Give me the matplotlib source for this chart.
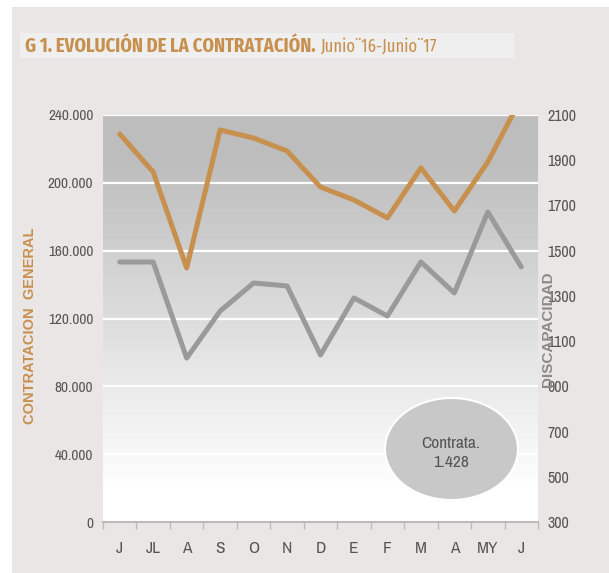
#!/usr/bin/env python3

import matplotlib
matplotlib.use('Agg')
import matplotlib.pyplot as plt
from matplotlib import font_manager
from matplotlib.font_manager import FontProperties
from matplotlib.patches import Ellipse, Rectangle
import numpy as np

months = ['J', 'JL', 'A', 'S', 'O', 'N', 'D', 'E', 'F', 'M', 'A', 'MY', 'J']
contratacion = [228800, 206400, 149800, 231200, 226400, 218800, 197500,
                189900, 179300, 208800, 183400, 212300, 250000]
discapacidad = [1450, 1450, 1025, 1233, 1357, 1344, 1039,
                1291, 1211, 1450, 1313, 1671, 1428]
left_ticks = [0, 40000, 80000, 120000, 160000, 200000, 240000]
left_labels = ['0', '40.000', '80.000', '120.000', '160.000', '200.000', '240.000']
right_ticks = [300, 500, 700, 900, 1100, 1300, 1500, 1700, 1900, 2100]

ORANGE = '#C8904E'
GREY = '#9A9A9A'
TXT = '#555555'
NARROW = ['Archivo Narrow', 'Roboto Condensed', 'DejaVu Sans']

W, H = 609, 573


def fx(px):
    return px / W


def fy(py):
    return 1 - py / H


def pick(cands, bold=False):
    # first installed family from cands (with a bold face if asked)
    for name in cands:
        for f in font_manager.fontManager.ttflist:
            if f.name != name:
                continue
            if not bold or f.weight in (700, 'bold'):
                return [name, 'DejaVu Sans']
    return NARROW


def bold_props(cands, size):
    # upright, normal width bold face, taken straight from its file
    for name in cands:
        for f in font_manager.fontManager.ttflist:
            if (f.name == name and f.style == 'normal'
                    and f.weight in (700, 'bold')
                    and f.stretch in ('normal', 400, 500)):
                return FontProperties(fname=f.fname, size=size)
    return FontProperties(family='DejaVu Sans', weight='bold', size=size)


fig = plt.figure(figsize=(6.09, 5.73), dpi=100)
fig.patch.set_facecolor('white')

# panel background and title bar
fig.add_artist(Rectangle((fx(12), 0), 1, fy(7), transform=fig.transFigure,
                         facecolor='#EAE6E6', edgecolor='none', zorder=-10))
fig.add_artist(Rectangle((fx(20), fy(58)), 494 / W, 25 / H,
                         transform=fig.transFigure, facecolor='#F0EFEF',
                         edgecolor='none', zorder=-9))

title_font = pick(['Fira Sans Extra Condensed', 'Sofia Sans Extra Condensed',
                   'Barlow Condensed', 'Roboto Condensed'], bold=True)
sub_font = pick(['Fira Sans Extra Condensed', 'Roboto Condensed',
                 'Archivo Narrow'])

t1 = fig.text(fx(25), fy(46), 'G 1. EVOLUCIÓN DE LA CONTRATACIÓN.',
              family=title_font, fontweight='bold', fontsize=14.5,
              color=ORANGE, va='center', ha='left')
fig.canvas.draw()
bb = t1.get_window_extent()
fig.text(bb.x1 / W + fx(5), fy(46.5), 'Junio¨16-Junio¨17',
         family=sub_font, fontsize=13, color=ORANGE, va='center', ha='left')

ax = fig.add_axes([fx(103), fy(522), 435 / W, 407 / H])
ax.set_facecolor('none')
x = np.arange(len(months))

# gradient background, white at the bottom, grey at the top
grad = np.linspace(0, 1, 256)
vals = np.clip((grad - 0.08) / 0.8, 0, 1)
top = 0.745
img = 1 - (1 - top) * vals
img = np.repeat(img[:, None, None], 3, axis=2)
ax.imshow(img, extent=[-0.5, len(months) - 0.5, 0, 240000], aspect='auto',
          origin='lower', zorder=0)

for t in left_ticks[1:]:
    ax.axhline(t, color='white', lw=1.6, zorder=1)

ax.plot(x, contratacion, color=ORANGE, lw=3.6, solid_capstyle='round', zorder=3)
ax.set_xlim(-0.5, len(months) - 0.5)
ax.set_ylim(0, 240000)
ax.set_yticks(left_ticks)
ax.set_yticklabels(left_labels)
ax.set_xticks(x)
ax.set_xticklabels(months)
ax.set_xticks(np.arange(-0.5, len(months)), minor=True)
ax.tick_params(axis='x', which='major', length=0, pad=14, labelsize=12.5,
               labelcolor=TXT)
ax.tick_params(axis='x', which='minor', length=5, color='#BBBBBB', width=1)
ax.tick_params(axis='y', length=0, pad=7, labelsize=11, labelcolor=TXT)
for lab in ax.get_xticklabels() + ax.get_yticklabels():
    lab.set_family(NARROW)
for s in ['top', 'right', 'left']:
    ax.spines[s].set_visible(False)
ax.spines['bottom'].set_color('#BBBBBB')
ax.spines['bottom'].set_linewidth(1.5)

ax2 = ax.twinx()
ax2.plot(x, discapacidad, color=GREY, lw=3.6, solid_capstyle='round', zorder=3)
ax2.set_ylim(300, 2100)
ax2.set_yticks(right_ticks)
ax2.tick_params(axis='y', length=0, pad=7, labelsize=11.5, labelcolor=TXT)
for lab in ax2.get_yticklabels():
    lab.set_family(NARROW)
for s in ['top', 'right', 'left', 'bottom']:
    ax2.spines[s].set_visible(False)

# annotation bubble
ell = Ellipse((fx(451.5), fy(449)), 133 / W, 102 / H,
              transform=fig.transFigure, facecolor='#C8C8C8',
              edgecolor='white', lw=1.5, zorder=5)
fig.add_artist(ell)
fig.text(fx(451), fy(453), 'Contrata.\n1.428', family=NARROW,
         fontsize=12.5, color=TXT, ha='center', va='center',
         linespacing=1.4, zorder=6)

label_cands = ['Liberation Sans', 'Lato', 'Open Sans', 'Roboto', 'Noto Sans']
fig.text(fx(30), fy(326), 'CONTRATACION  GENERAL', rotation=90,
         fontproperties=bold_props(label_cands, 10.5),
         color=ORANGE, ha='center', va='center')
fig.text(fx(548), fy(329), 'DISCAPACIDAD', rotation=90,
         fontproperties=bold_props(label_cands, 11),
         color='#8A8A8A', ha='center', va='center')

fig.savefig('out.png', dpi=100, facecolor=fig.get_facecolor())
